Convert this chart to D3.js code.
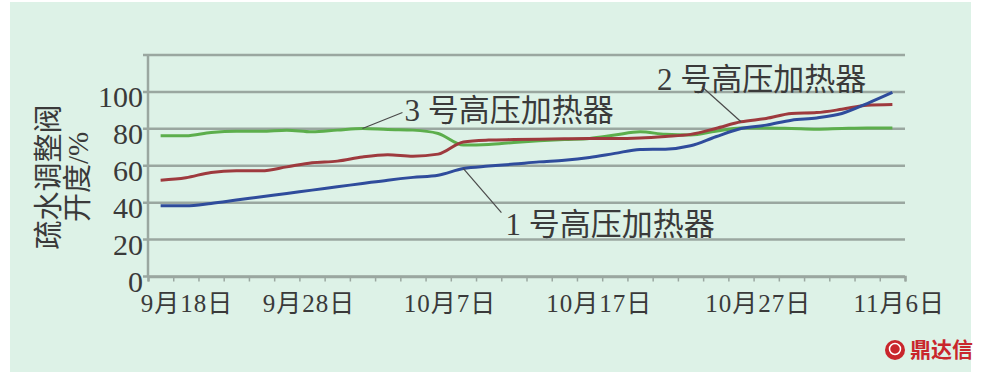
<!DOCTYPE html>
<html>
<head>
<meta charset="utf-8">
<script src="https://cdn.jsdelivr.net/npm/d3@7"></script>
<style>
  body { margin: 0; background: #ffffff; }
  svg text { font-family: "Liberation Serif", "Noto Sans CJK SC", serif; fill: #3a3a3a; }
</style>
</head>
<body>
<div id="chart"></div>
<script>
// series values, one point per category (30 categories)
var heater1 = [38.3, 38.3, 39.6, 41.4, 43.2, 45.0, 46.8, 48.6, 50.4, 52.2,
  53.7, 54.9, 58.5, 59.8, 60.9, 62.1, 63.0, 64.5, 66.7, 68.8,
  69.0, 70.8, 75.7, 80.2, 82.0, 84.7, 85.9, 88.3, 93.7, 99.7];
var heater2 = [52.2, 53.5, 56.4, 57.3, 57.3, 59.4, 61.6, 62.5, 64.8, 66.0,
  65.2, 66.3, 72.9, 73.9, 74.2, 74.4, 74.6, 74.8, 74.8, 75.1,
  75.9, 77.0, 80.2, 83.8, 85.6, 88.3, 88.8, 90.6, 92.8, 93.2];
var heater3 = [76.2, 76.2, 78.0, 78.7, 78.7, 79.3, 78.4, 79.3, 80.2, 79.6,
  79.3, 77.5, 71.2, 71.5, 72.6, 73.5, 74.2, 74.8, 76.6, 78.4,
  77.0, 76.6, 78.7, 80.5, 80.5, 80.2, 79.8, 80.2, 80.5, 80.5];

var seriesNames = ["1号高压加热器", "2号高压加热器", "3号高压加热器"];

// x tick labels and where they sit on the category axis
var dateLabels = ["9月18日", "9月28日", "10月7日", "10月17日", "10月27日", "11月6日"];
var datePos = [1.55, 6.38, 11.97, 17.88, 24.18, 29.77];

var yTicks = [0, 20, 40, 60, 80, 100, 120];

var width = 986;
var height = 372;

var svg = d3.select("#chart")
  .append("svg")
  .attr("width", width)
  .attr("height", height);

// mint panel
svg.append("rect")
  .attr("x", 10)
  .attr("y", 2)
  .attr("width", 961)
  .attr("height", height - 2)
  .attr("fill", "#ddf2e7");

var nCat = heater1.length;

var xScale = d3.scaleLinear()
  .domain([0, nCat])
  .range([148, 905]);
var yScale = d3.scaleLinear()
  .domain([0, 120])
  .range([276.5, 55]);

// gridlines
svg.append("g")
  .selectAll("line")
  .data(yTicks)
  .enter()
  .append("line")
  .attr("x1", xScale(0) - 5)
  .attr("x2", xScale(nCat))
  .attr("y1", function(d) { return yScale(d); })
  .attr("y2", function(d) { return yScale(d); })
  .attr("stroke", "#9aa7a0")
  .attr("stroke-width", 2.5);

// y axis line
svg.append("line")
  .attr("x1", xScale(0))
  .attr("x2", xScale(0))
  .attr("y1", yScale(120))
  .attr("y2", yScale(0))
  .attr("stroke", "#9aa7a0")
  .attr("stroke-width", 2.5);

// y labels (no 120)
svg.append("g")
  .selectAll("text")
  .data(yTicks.slice(0, 6))
  .enter()
  .append("text")
  .attr("x", 143)
  .attr("y", function(d) { return yScale(d) + 15; })
  .attr("text-anchor", "end")
  .attr("font-size", 30)
  .text(function(d) { return d; });

// x axis ticks
var xAxis = d3.axisBottom(xScale)
  .tickValues(d3.range(0, nCat + 1))
  .tickSize(5)
  .tickFormat("");
var gx = svg.append("g")
  .attr("transform", "translate(0," + yScale(0) + ")")
  .call(xAxis);
gx.select(".domain").attr("stroke", "#9aa7a0").attr("stroke-width", 2.5);
gx.selectAll(".tick line").attr("stroke", "#9aa7a0").attr("stroke-width", 1.5);

svg.append("g")
  .selectAll("text")
  .data(dateLabels)
  .enter()
  .append("text")
  .attr("x", function(d, i) { return xScale(datePos[i]); })
  .attr("y", 312)
  .attr("text-anchor", "middle")
  .attr("font-size", 25)
  .attr("letter-spacing", 1)
  .text(function(d) { return d; });

// y axis title, two vertical columns
var yTitle = ["疏水调整阀", "开度/%"];
var yTitleX = [48.5, 77.5];
svg.append("g")
  .selectAll("text")
  .data(yTitle)
  .enter()
  .append("text")
  .attr("transform", function(d, i) { return "translate(" + yTitleX[i] + ",177)rotate(-90)"; })
  .attr("text-anchor", "middle")
  .attr("dominant-baseline", "central")
  .attr("font-size", 29)
  .text(function(d) { return d; });

// lines
var line = d3.line()
  .x(function(d, i) { return xScale(i + 0.5); })
  .y(function(d) { return yScale(d); })
  .curve(d3.curveMonotoneX);

var allSeries = [heater3, heater2, heater1];
var colors = ["#5cae4c", "#9e3a3e", "#2f4c9c"];

svg.append("g")
  .selectAll("path")
  .data(allSeries)
  .enter()
  .append("path")
  .attr("d", line)
  .attr("fill", "none")
  .attr("stroke", function(d, i) { return colors[i]; })
  .attr("stroke-width", 3)
  .attr("stroke-linejoin", "round");

// callouts: series, category index, leader end offset, text offset
var callouts = [
  { data: heater3, name: seriesNames[2], idx: 8, lx: 40, ly: -16, tx: 42, ty: -7 },
  { data: heater1, name: seriesNames[0], idx: 12, lx: 38, ly: 44, tx: 42, ty: 66 },
  { data: heater2, name: seriesNames[1], idx: 23, lx: -39, ly: -35, tx: -84, ty: -32 }
];

callouts.forEach(function(c) {
  var px = xScale(c.idx + 0.5);
  var py = yScale(c.data[c.idx]);
  svg.append("line")
    .attr("x1", px)
    .attr("y1", py)
    .attr("x2", px + c.lx)
    .attr("y2", py + c.ly)
    .attr("stroke", "#4a4a4a")
    .attr("stroke-width", 1.2);
  svg.append("text")
    .attr("x", px + c.tx)
    .attr("y", py + c.ty)
    .attr("font-size", 31)
    .text(c.name.replace("号", " 号"));
});

// watermark
svg.append("circle")
  .attr("cx", 895)
  .attr("cy", 350)
  .attr("r", 10)
  .attr("fill", "#c9262c");
svg.append("circle")
  .attr("cx", 895)
  .attr("cy", 349)
  .attr("r", 5.5)
  .attr("fill", "none")
  .attr("stroke", "#ffffff")
  .attr("stroke-width", 1.5);
svg.append("text")
  .attr("x", 910)
  .attr("y", 357)
  .attr("font-size", 21)
  .attr("font-weight", "bold")
  .style("font-family", "'Noto Sans CJK SC', sans-serif")
  .style("fill", "#c9262c")
  .text("鼎达信");
</script>
</body>
</html>
